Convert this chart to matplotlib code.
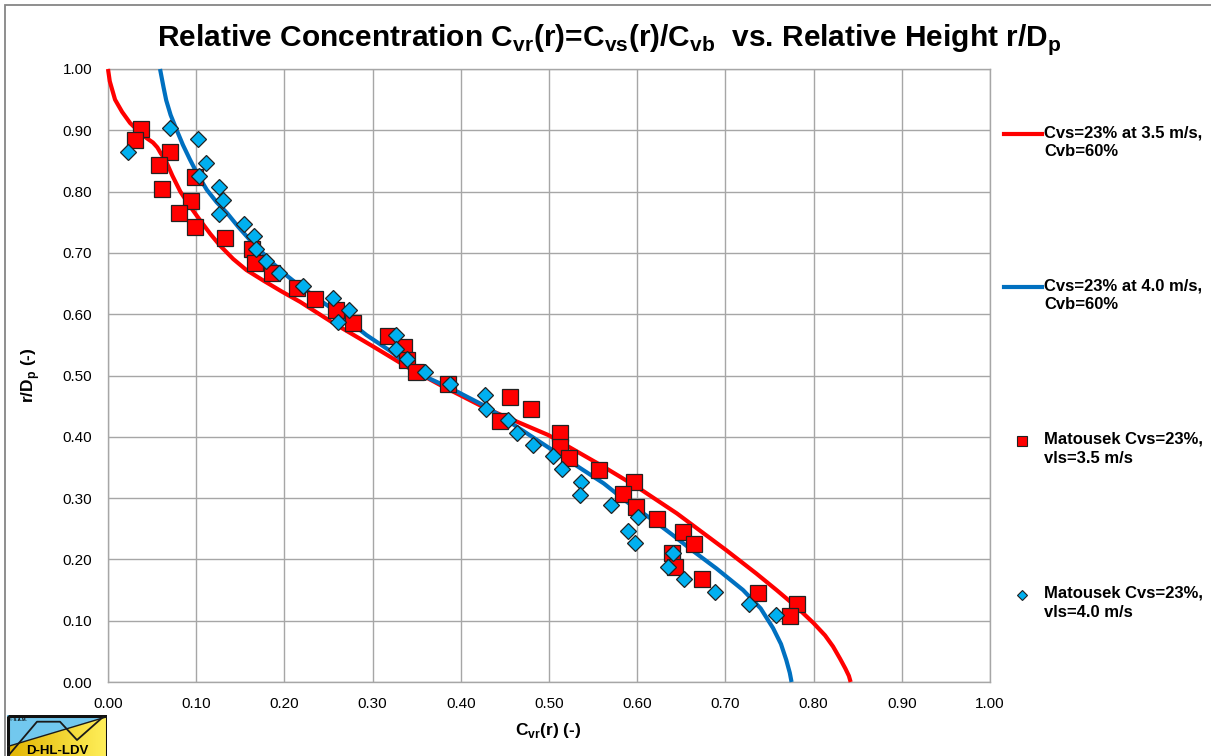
import matplotlib
matplotlib.use("Agg")
import matplotlib.pyplot as plt
import numpy as np
from matplotlib.lines import Line2D
from matplotlib.patches import Rectangle, Polygon

plt.rcParams['font.family'] = ['Liberation Sans', 'DejaVu Sans']
plt.rcParams['mathtext.fontset'] = 'custom'
plt.rcParams['mathtext.rm'] = 'Liberation Sans'
plt.rcParams['mathtext.bf'] = 'Liberation Sans:bold'

# model curves (C_vr, r/Dp)
red_x = [0.000, 0.002, 0.008, 0.016, 0.025, 0.035, 0.044, 0.051, 0.056, 0.060, 0.065, 0.073,
         0.082, 0.093, 0.104, 0.116, 0.127, 0.142, 0.157, 0.176, 0.197, 0.218, 0.255, 0.301,
         0.339, 0.376, 0.429, 0.499, 0.562, 0.600, 0.645, 0.701, 0.735, 0.758, 0.781, 0.800,
         0.813, 0.822, 0.830, 0.836, 0.840, 0.842]
red_y = [1.000, 0.980, 0.950, 0.930, 0.912, 0.898, 0.887, 0.880, 0.872, 0.862, 0.852, 0.826,
         0.800, 0.776, 0.754, 0.731, 0.712, 0.690, 0.672, 0.655, 0.637, 0.620, 0.586, 0.547,
         0.514, 0.485, 0.446, 0.403, 0.351, 0.318, 0.275, 0.215, 0.177, 0.150, 0.122, 0.096,
         0.076, 0.058, 0.038, 0.022, 0.010, 0.000]

blue_x = [0.059, 0.061, 0.063, 0.066, 0.071, 0.078, 0.085, 0.093, 0.102, 0.112, 0.123, 0.135,
          0.148, 0.161, 0.174, 0.187, 0.200, 0.214, 0.240, 0.265, 0.293, 0.320, 0.354, 0.390,
          0.429, 0.465, 0.501, 0.530, 0.562, 0.590, 0.618, 0.640, 0.664, 0.690, 0.720, 0.740,
          0.754, 0.763, 0.769, 0.773, 0.775]
blue_y = [1.000, 0.985, 0.970, 0.949, 0.925, 0.900, 0.876, 0.852, 0.827, 0.803, 0.783, 0.765,
          0.742, 0.721, 0.702, 0.683, 0.666, 0.650, 0.623, 0.598, 0.566, 0.540, 0.502, 0.478,
          0.449, 0.415, 0.381, 0.354, 0.324, 0.292, 0.264, 0.240, 0.213, 0.185, 0.150, 0.120,
          0.088, 0.062, 0.036, 0.015, 0.000]

# Matousek measurements
sq_x = [0.037, 0.031, 0.070, 0.058, 0.061, 0.099, 0.094, 0.080, 0.099, 0.133, 0.163, 0.167,
        0.186, 0.214, 0.235, 0.258, 0.278, 0.318, 0.336, 0.339, 0.349, 0.385, 0.456, 0.480,
        0.444, 0.512, 0.512, 0.523, 0.557, 0.596, 0.584, 0.599, 0.623, 0.652, 0.664, 0.640,
        0.643, 0.674, 0.737, 0.781, 0.773]
sq_y = [0.902, 0.884, 0.864, 0.843, 0.804, 0.824, 0.784, 0.765, 0.743, 0.725, 0.706, 0.683,
        0.667, 0.643, 0.624, 0.607, 0.586, 0.564, 0.547, 0.525, 0.505, 0.486, 0.465, 0.446,
        0.425, 0.406, 0.384, 0.366, 0.346, 0.326, 0.306, 0.286, 0.266, 0.245, 0.225, 0.210,
        0.187, 0.168, 0.146, 0.127, 0.107]

dm_x = [0.070, 0.023, 0.102, 0.111, 0.103, 0.126, 0.130, 0.126, 0.154, 0.165, 0.168, 0.179,
        0.194, 0.221, 0.255, 0.273, 0.261, 0.327, 0.327, 0.339, 0.359, 0.388, 0.427, 0.429,
        0.454, 0.464, 0.482, 0.504, 0.515, 0.536, 0.535, 0.570, 0.601, 0.590, 0.597, 0.641,
        0.635, 0.653, 0.688, 0.727, 0.757]
dm_y = [0.904, 0.864, 0.886, 0.847, 0.826, 0.807, 0.786, 0.763, 0.747, 0.728, 0.706, 0.686,
        0.667, 0.646, 0.626, 0.607, 0.587, 0.566, 0.544, 0.527, 0.506, 0.486, 0.468, 0.445,
        0.427, 0.407, 0.387, 0.368, 0.347, 0.327, 0.305, 0.288, 0.269, 0.247, 0.227, 0.210,
        0.187, 0.168, 0.147, 0.127, 0.109]

labels = ["Cvs=23% at 3.5 m/s,\nCvb=60%", "Cvs=23% at 4.0 m/s,\nCvb=60%",
          "Matousek Cvs=23%,\nvls=3.5 m/s", "Matousek Cvs=23%,\nvls=4.0 m/s"]

W, H = 1211, 756
fig = plt.figure(figsize=(W / 100, H / 100), dpi=100)
ax = fig.add_axes([108 / W, 1 - 682 / H, 882 / W, 613 / H])

red, blue, cyan = "#FF0000", "#0070C0", "#00B0F0"
ax.plot(red_x, red_y, color=red, lw=3, zorder=3, clip_on=False, solid_capstyle='butt')
ax.plot(blue_x, blue_y, color=blue, lw=3, zorder=3, clip_on=False, solid_capstyle='butt')
ax.plot(sq_x, sq_y, ls='none', marker='s', ms=12, mfc=red, mec='#222222', mew=0.9, zorder=4)
ax.plot(dm_x, dm_y, ls='none', marker='D', ms=8, mfc=cyan, mec='#222222', mew=0.9, zorder=5)

ax.set_xlim(0, 1)
ax.set_ylim(0, 1)
ax.set_xticks(np.arange(0, 1.01, 0.1))
ax.set_yticks(np.arange(0, 1.01, 0.1))
ax.xaxis.set_major_formatter(matplotlib.ticker.FormatStrFormatter('%.2f'))
ax.yaxis.set_major_formatter(matplotlib.ticker.FormatStrFormatter('%.2f'))
ax.tick_params(length=0, labelsize=11)
ax.tick_params(axis='x', pad=10.5)
ax.tick_params(axis='y', pad=11.5)
ax.grid(True, color='#A6A6A6', lw=1.0)
ax.set_axisbelow(True)
for s in ax.spines.values():
    s.set_color('#A6A6A6')
    s.set_linewidth(1.0)

fig.text(609 / W, 1 - 46 / H,
         r"Relative Concentration C$_\mathbf{vr}$(r)=C$_\mathbf{vs}$(r)/C$_\mathbf{vb}$  vs. Relative Height r/D$_\mathbf{p}$",
         ha='center', va='baseline', fontsize=21.5, fontweight='bold')
fig.text(548 / W, 1 - 735 / H, r"C$_\mathbf{vr}$(r) (-)", ha='center', va='baseline',
         fontsize=12.5, fontweight='bold')
fig.text(31 / W, 1 - 375 / H, r"r/D$_\mathbf{p}$ (-)", ha='center', va='center', rotation=90,
         fontsize=12.5, fontweight='bold')

# legend, drawn by hand to keep Excel's spacing
leg_y = [134, 287, 441, 595]
for i, (lab, yy) in enumerate(zip(labels, leg_y)):
    fy = 1 - yy / H
    if i == 0:
        fig.add_artist(Line2D([1004 / W, 1042 / W], [fy, fy], color=red, lw=3))
    elif i == 1:
        fig.add_artist(Line2D([1004 / W, 1042 / W], [fy, fy], color=blue, lw=3))
    elif i == 2:
        fig.add_artist(Line2D([1022 / W], [fy], marker='s', ms=7.5, mfc=red, mec='#222222', mew=0.8))
    else:
        fig.add_artist(Line2D([1022 / W], [fy], marker='D', ms=5.5, mfc=cyan, mec='#222222', mew=0.8))
    fig.text(1044 / W, fy + 9 / H, lab, ha='left', va='top', fontsize=12, fontweight='bold',
             linespacing=1.3)

# chart border
fig.add_artist(Rectangle((5 / W, -0.05), 1.2, 1 - 5 / H + 0.05, transform=fig.transFigure,
                         fill=False, ec='#868686', lw=1.3))

# logo bottom-left
lax = fig.add_axes([7 / W, 0, 100 / W, 41 / H])
lax.set_xlim(0, 100)
lax.set_ylim(41, 0)
lax.axis('off')
grad = np.linspace(0, 1, 100)[None, :]
cmap = matplotlib.colors.LinearSegmentedColormap.from_list('y', ['#E2B400', '#FFEF5A'])
im = lax.imshow(np.repeat(grad, 10, axis=0), cmap=cmap, extent=(0, 100, 41, 0), aspect='auto')
tri = Polygon([(0, 31.7), (100, 1.7), (100, 41), (0, 41)], closed=True, transform=lax.transData)
im.set_clip_path(tri)
lax.add_patch(Polygon([(0, 0), (100, 0), (100, 1.7), (0, 31.7)], closed=True, fc='#72C8EE', ec='none'))
lax.plot([0, 100], [31.7, 1.7], color='#1a1a1a', lw=1.0)
lax.plot([1, 30, 53, 70, 96], [41, 6.7, 6.7, 25, 2], color='#1a1a1a', lw=1.3)
lax.add_patch(Rectangle((0.5, 0.5), 99, 45, fill=False, ec='#111111', lw=2.2))
lax.text(50, 39, "D-HL-LDV", ha='center', va='baseline', fontsize=9.5, fontweight='bold')
lax.text(2, 5, "© S.A.M.", ha='left', va='center', fontsize=3.2, fontweight='bold')

fig.savefig("out.png", dpi=100)
